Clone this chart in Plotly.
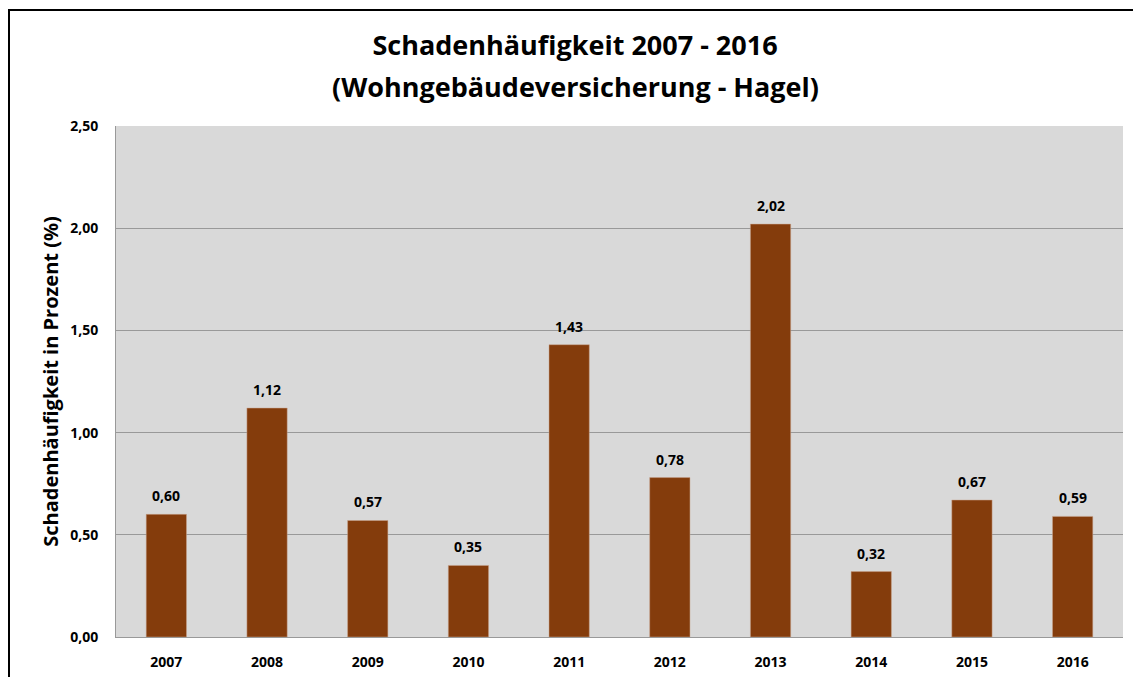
import plotly.graph_objects as go

years = ["2007", "2008", "2009", "2010", "2011", "2012", "2013", "2014", "2015", "2016"]
values = [0.60, 1.12, 0.57, 0.35, 1.43, 0.78, 2.02, 0.32, 0.67, 0.59]
y_ticks = [0.0, 0.5, 1.0, 1.5, 2.0, 2.5]
y_tick_labels = ["0,00", "0,50", "1,00", "1,50", "2,00", "2,50"]
title_line1 = "Schadenhäufigkeit 2007 - 2016"
title_line2 = "(Wohngebäudeversicherung - Hagel)"

FONT = "Open Sans"
L, R, T, B = 116, 10, 126, 40
W, H = 1133, 677
pw = W - L - R
ph = H - T - B

fig = go.Figure()
fig.add_trace(go.Bar(
    x=years, y=values,
    marker=dict(color="#843c0c", line=dict(color="#c9a58f", width=0.5)),
    hoverinfo="x+y",
))

# value labels above bars (x given as category index)
for i, v in enumerate(values):
    fig.add_annotation(
        x=i, y=v, xref="x", yref="y",
        text=f"{v:.2f}".replace(".", ","),
        showarrow=False, yanchor="bottom", yshift=7,
        font=dict(family=FONT, size=14, color="#000000", weight="bold"),
    )

fig.update_layout(
    width=W, height=H,
    margin=dict(l=L, r=R, t=T, b=B, autoexpand=False),
    paper_bgcolor="white", plot_bgcolor="#d9d9d9",
    separators=",.",
    bargap=0.6,
    showlegend=False,
    title=dict(
        text=title_line1,
        x=575 / W, xanchor="center", y=1 - 46 / H, yanchor="middle",
        font=dict(family=FONT, size=27, color="#000000", weight="bold"),
    ),
    font=dict(family=FONT, color="#000000"),
)
fig.add_annotation(
    text=title_line2, xref="paper", yref="paper",
    x=(575 - L) / pw, y=(H - B - 87) / ph, xanchor="center", yanchor="middle",
    showarrow=False,
    font=dict(family=FONT, size=27, color="#000000", weight="bold"),
)
fig.update_xaxes(
    type="category", range=[-0.5, len(years) - 0.5], automargin=False,
    showline=True, linecolor="#999999", linewidth=1,
    ticks="", tickfont=dict(family=FONT, size=14, weight="bold"),
    ticklabelstandoff=12,
)
fig.update_yaxes(
    range=[0, 2.5], tickvals=y_ticks, ticktext=y_tick_labels, automargin=False,
    showgrid=True, gridcolor="#999999", gridwidth=1,
    showline=True, linecolor="#999999", linewidth=1, mirror=False,
    tickfont=dict(family=FONT, size=14, weight="bold"),
    ticklabelstandoff=14, zeroline=False,
    title=dict(text="Schadenhäufigkeit in Prozent (%)",
               font=dict(family=FONT, size=20, weight="bold"), standoff=6),
)
# outer chart border (extends beyond the visible area on the right and bottom)
fig.add_shape(type="rect", xref="paper", yref="paper",
              x0=(9 - L) / pw, x1=(W + 20 - L) / pw,
              y0=(H - B - (H + 20)) / ph, y1=(H - B - 10) / ph,
              line=dict(color="#000000", width=2), fillcolor="rgba(0,0,0,0)",
              layer="above")

fig.write_html("out.html", config={"displayModeBar": False},
               post_script="document.body.style.margin='0';")
